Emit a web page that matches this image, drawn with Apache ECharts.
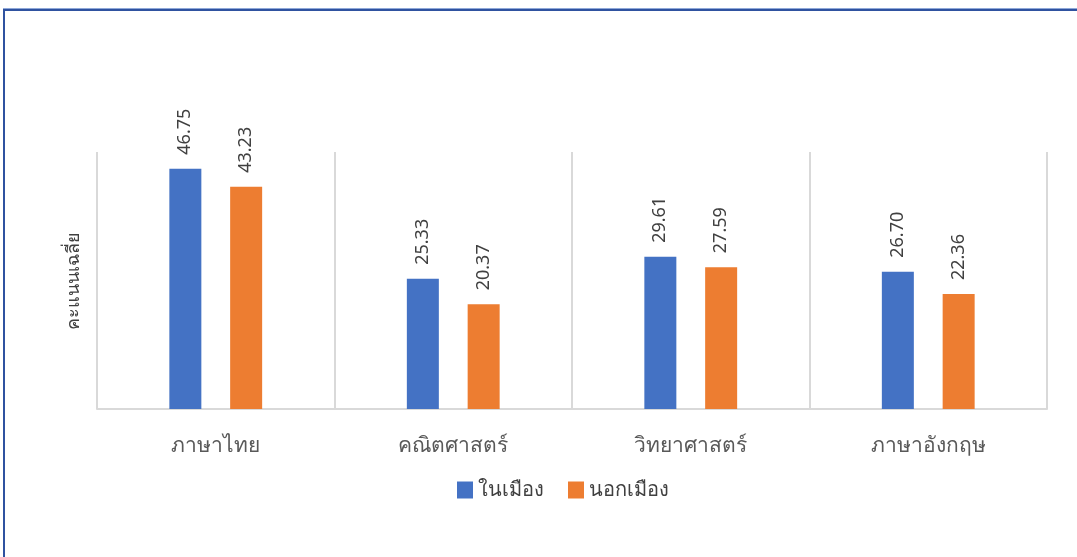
<!DOCTYPE html>
<html>
<head>
<meta charset="utf-8">
<script src="https://cdn.jsdelivr.net/npm/echarts@6/dist/echarts.min.js"></script>
<style>
  html, body { margin: 0; padding: 0; background: #fff; }
  #frame {
    position: absolute; left: 3px; top: 9px; width: 1074px; height: 548px;
    border-left: 2px solid #2f52a0; border-top: 2px solid #2f52a0;
    box-shadow: 0 -1px 0 #8fa8d8;
  }
  #chart { position: absolute; left: 0; top: 0; width: 1077px; height: 557px; }
</style>
</head>
<body>
<div id="frame"></div>
<div id="chart"></div>
<script>
// วิชา
const subjects = ['ภาษาไทย', 'คณิตศาสตร์', 'วิทยาศาสตร์', 'ภาษาอังกฤษ']
// คะแนนเฉลี่ย
const urban = [46.75, 25.33, 29.61, 26.70]
const rural = [43.23, 20.37, 27.59, 22.36]
const seriesNames = ['ในเมือง', 'นอกเมือง']

const fontFamily = '"Noto Sans", "DejaVu Sans", sans-serif'

const labelStyle = {
  show: true,
  position: 'top',
  rotate: 90,
  align: 'left',
  verticalAlign: 'middle',
  distance: 14,
  fontSize: 18,
  color: '#404040',
  fontFamily: fontFamily,
  formatter: p => p.value.toFixed(2)
}

const chart = echarts.init(document.getElementById('chart'))
chart.setOption({
  animation: false,
  grid: { left: 97, right: 30, top: 152, bottom: 148 },
  legend: {
    data: seriesNames,
    bottom: 52,
    left: 452,
    itemWidth: 16,
    itemHeight: 17,
    itemGap: 24,
    icon: 'rect',
    textStyle: { fontSize: 20, color: '#404040', fontFamily: fontFamily }
  },
  xAxis: {
    type: 'category',
    data: subjects,
    axisLine: { lineStyle: { color: '#d9d9d9', width: 2 } },
    axisTick: { show: false },
    splitLine: { show: true, lineStyle: { color: '#d9d9d9', width: 2 } },
    axisLabel: { margin: 27, fontSize: 21, color: '#595959', fontFamily: fontFamily }
  },
  yAxis: {
    type: 'value',
    min: 0,
    max: 50,
    name: 'คะแนนเฉลี่ย',
    nameLocation: 'middle',
    nameGap: 14,
    nameRotate: 90,
    nameTextStyle: { fontSize: 18, color: '#404040', fontFamily: fontFamily },
    axisLine: { show: false },
    axisTick: { show: false },
    axisLabel: { show: false },
    splitLine: { show: false }
  },
  series: [
    {
      name: seriesNames[0],
      type: 'bar',
      data: urban,
      barWidth: 32,
      barGap: '90%',
      itemStyle: { color: '#4472c4' },
      label: labelStyle
    },
    {
      name: seriesNames[1],
      type: 'bar',
      data: rural,
      barWidth: 32,
      itemStyle: { color: '#ed7d31' },
      label: labelStyle
    }
  ]
})
</script>
</body>
</html>
